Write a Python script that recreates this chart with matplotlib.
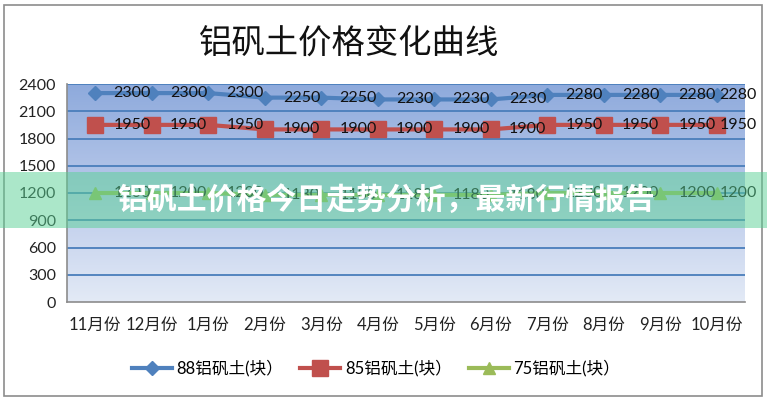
import matplotlib
matplotlib.use("Agg")
import matplotlib.pyplot as plt
import numpy as np
from matplotlib.colors import LinearSegmentedColormap
from matplotlib.patches import Rectangle

plt.rcParams['font.family'] = ['Lato', 'Noto Sans CJK SC', 'DejaVu Sans']

months = ["11月份", "12月份", "1月份", "2月份", "3月份", "4月份", "5月份",
          "6月份", "7月份", "8月份", "9月份", "10月份"]
s88 = [2300, 2300, 2300, 2250, 2250, 2230, 2230, 2230, 2280, 2280, 2280, 2280]
s85 = [1950, 1950, 1950, 1900, 1900, 1900, 1900, 1900, 1950, 1950, 1950, 1950]
s75 = [1200, 1200, 1200, 1180, 1180, 1180, 1180, 1180, 1200, 1200, 1200, 1200]
names = ["88铝矾土(块）", "85铝矾土(块）", "75铝矾土(块）"]
yticks = [0, 300, 600, 900, 1200, 1500, 1800, 2100, 2400]
title = "铝矾土价格变化曲线"
overlay = "铝矾土价格今日走势分析，最新行情报告"

fig = plt.figure(figsize=(7.67, 4.0), dpi=100)
ax = fig.add_axes([67/767, 1-302/400, (745-67)/767, (302-84)/400])

x = np.arange(len(months))
ax.set_xlim(-0.5, len(months)-0.5)
ax.set_ylim(0, 2400)

# gradient background
cmap = LinearSegmentedColormap.from_list("bg", ["#e3eaf6", "#b9c9ea", "#8eaadc"])
grad = np.linspace(0, 1, 256).reshape(-1, 1)
ax.imshow(grad, cmap=cmap, aspect='auto', origin='lower',
          extent=[-0.5, len(months)-0.5, 0, 2400], zorder=0)

for t in yticks[1:]:
    ax.axhline(t, color="#4a7ebb", lw=1.3, zorder=1)

series = [
    (s88, "#4f81bd", "D", 7),
    (s85, "#c0504d", "s", 11),
    (s75, "#9bbb59", "^", 9),
]
for (vals, col, mk, ms), nm in zip(series, names):
    ax.plot(x, vals, color=col, lw=3, marker=mk, markersize=ms, label=nm,
            zorder=3, clip_on=False)
    for i, v in enumerate(vals):
        off = 13 if i < len(vals)-1 else 2
        ax.annotate(str(v), (x[i], v), xytext=(off, 0), textcoords='offset points',
                    ha='left', va='center', fontsize=11.5, color="#111111", zorder=4,
                    annotation_clip=False)

ax.set_xticks(x)
ax.set_xticklabels(months, fontsize=12, color="#222222")
ax.set_yticks(yticks)
ax.set_yticklabels([str(t) for t in yticks], fontsize=11.5, color="#222222")
ax.tick_params(length=0, pad=8)
ax.tick_params(axis='x', pad=11)
for sp in ['top', 'right']:
    ax.spines[sp].set_visible(False)
ax.spines['left'].set_color("#8c8c8c")
ax.spines['bottom'].set_color("#8c8c8c")
ax.spines['left'].set_linewidth(1.2)
ax.spines['bottom'].set_linewidth(1.2)

fig.text(349/767, 1-43/400, title, ha='center', va='center', fontsize=24,
         family=['Noto Sans CJK SC'], color="#111111")

leg = fig.legend(loc='center', bbox_to_anchor=(376/767, 1-368/400), ncol=3,
                 frameon=False, fontsize=12, handlelength=2.4, columnspacing=1.0,
                 handletextpad=0.3)

# outer frame
fig.add_artist(Rectangle((4/767, 4/400), 758/767, 391/400, transform=fig.transFigure,
                         fill=False, edgecolor="#8c8c8c", lw=1.2))

# overlay band
fig.add_artist(Rectangle((0, 1-228/400), 1, 56/400, transform=fig.transFigure,
                         facecolor=(0.35, 0.82, 0.58), alpha=0.5, edgecolor='none',
                         zorder=10))
fig.text(386/767, 1-200/400, overlay, ha='center', va='center', fontsize=21.5,
         fontweight='bold', color='white', family=['Noto Sans CJK SC'], zorder=11)

fig.savefig("out.png", dpi=100)
